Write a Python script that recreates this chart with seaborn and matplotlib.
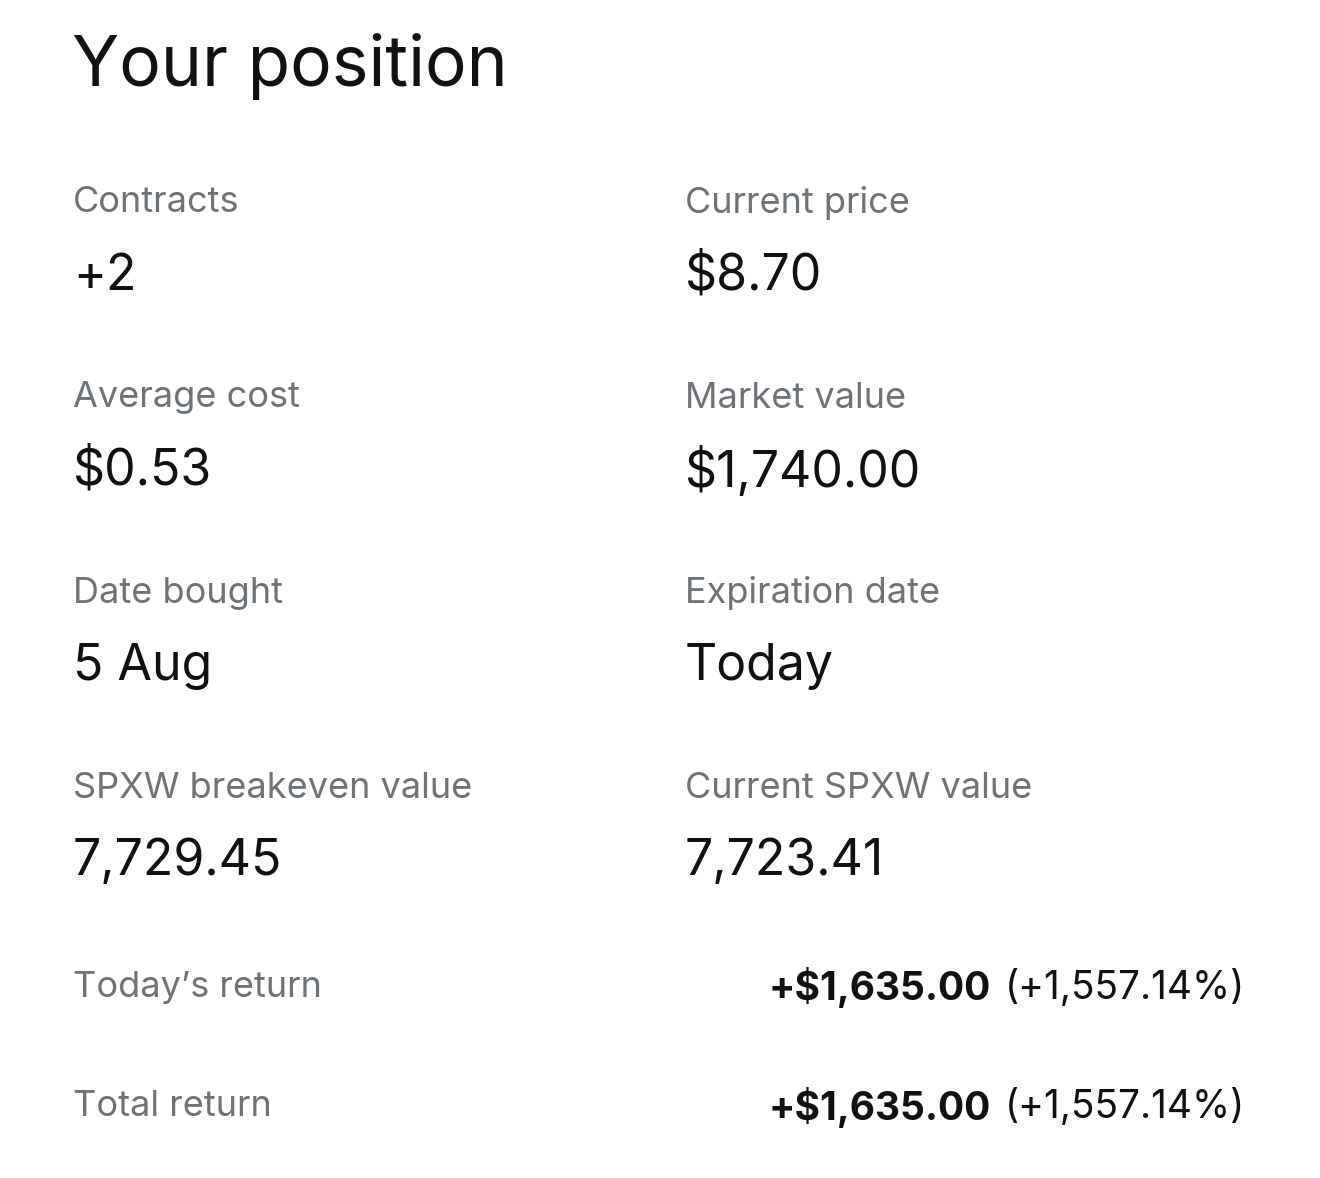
import matplotlib
matplotlib.use("Agg")
import matplotlib.pyplot as plt
import seaborn as sns

W, H = 1320, 1178

title = "Your position"
left_labels = ["Contracts", "Average cost", "Date bought", "SPXW breakeven value"]
left_values = ["+2", "$0.53", "5 Aug", "7,729.45"]
right_labels = ["Current price", "Market value", "Expiration date", "Current SPXW value"]
right_values = ["$8.70", "$1,740.00", "Today", "7,723.41"]
return_labels = ["Today\u2019s return", "Total return"]
return_amounts = ["+$1,635.00", "+$1,635.00"]
return_pcts = ["(+1,557.14%)", "(+1,557.14%)"]

sns.set_style("white")
plt.rcParams["font.family"] = ["Inter", "DejaVu Sans"]

GRAY = "#6e7378"
BLACK = "#111111"

fig = plt.figure(figsize=(W / 100, H / 100), dpi=100)
fig.patch.set_facecolor("white")


def fx(x):
    return x / W


def fy(y):
    return 1 - y / H


fig.text(fx(72), fy(66), title, fontsize=50, color=BLACK, va="center", ha="left")

label_y = [203, 398, 593, 788]
value_y = [276, 471, 666, 861]
for i in range(len(left_labels)):
    fig.text(fx(73), fy(label_y[i]), left_labels[i], fontsize=26, color=GRAY, va="center")
    fig.text(fx(73), fy(value_y[i]), left_values[i], fontsize=36, color=BLACK, va="center")
    fig.text(fx(685), fy(label_y[i]), right_labels[i], fontsize=26, color=GRAY, va="center")
    fig.text(fx(685), fy(value_y[i]), right_values[i], fontsize=36, color=BLACK, va="center")

renderer = fig.canvas.get_renderer()
ret_y = [988, 1107]
for i in range(len(return_labels)):
    fig.text(fx(73), fy(ret_y[i]), return_labels[i], fontsize=26, color=GRAY, va="center")
    t = fig.text(fx(1245), fy(ret_y[i]), return_pcts[i], fontsize=28, color=BLACK,
                 va="center", ha="right")
    bb = t.get_window_extent(renderer=renderer)
    fig.text((bb.x0 - 14) / W, fy(ret_y[i]), return_amounts[i], fontsize=28,
             fontweight="bold", color=BLACK, va="center", ha="right")

fig.savefig("out.png", dpi=100, facecolor="white")
